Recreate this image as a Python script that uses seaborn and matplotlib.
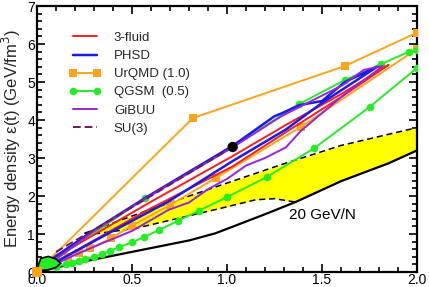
import numpy as np
import pandas as pd
import matplotlib
matplotlib.use("Agg")
import matplotlib.pyplot as plt
from matplotlib.lines import Line2D
from matplotlib.ticker import MultipleLocator
import seaborn as sns

# ---------------- data ----------------
# black reference curve
black_x = [0.0, 0.2, 0.5, 0.8, 0.94, 1.2, 1.36, 1.6, 1.85, 2.0]
black_y = [0.0, 0.23, 0.53, 0.83, 1.02, 1.52, 1.84, 2.39, 2.86, 3.2]

# yellow band (dashed borders)
band_up_x = [0.25, 0.57, 0.97, 1.3, 1.6, 2.0]
band_up_y = [1.02, 1.6, 2.29, 2.85, 3.33, 3.8]
band_lo_x = [0.25, 0.27, 0.52, 0.97, 1.15, 1.25, 1.36, 1.6, 1.85, 2.0]
band_lo_y = [1.02, 0.98, 1.15, 1.68, 1.9, 1.93, 1.84, 2.39, 2.86, 3.2]
band_lo_dash_n = 7  # first points of lower border drawn dashed

# 3-fluid (red)
red_a_x = [0.1, 0.6, 1.03, 1.31, 1.6, 1.85]
red_a_y = [0.4, 1.85, 3.05, 3.87, 4.68, 5.45]
red_b_x = [0.0, 0.2, 0.57, 1.03, 1.31, 1.6, 1.85]
red_b_y = [0.0, 0.55, 1.6, 2.78, 3.68, 4.6, 5.45]

# PHSD (blue)
blue_x = [0.02, 0.1, 0.3, 0.57, 1.03, 1.25, 1.29, 1.38, 1.5, 1.62, 1.79,
          1.5, 1.31, 1.03, 0.69, 0.37, 0.15, 0.05]
blue_y = [0.1, 0.42, 1.1, 1.95, 3.32, 4.1, 4.18, 4.39, 4.5, 5.0, 5.4,
          4.45, 3.75, 2.92, 1.85, 1.0, 0.4, 0.12]

# GiBUU (purple)
purple_x = [0.05, 0.3, 0.57, 1.03, 1.28, 1.38, 1.61, 1.72, 1.82,
            1.6, 1.39, 1.31, 1.2, 1.1, 1.0, 0.9, 0.8, 0.69, 0.5, 0.34, 0.2, 0.05]
purple_y = [0.15, 1.08, 1.93, 3.28, 4.08, 4.34, 4.92, 5.32, 5.42,
            4.6, 3.72, 3.28, 3.0, 2.8, 2.45, 2.18, 1.83, 1.63, 1.08, 0.75, 0.45, 0.1]

# SU(3) (dashed)
su3_x = [0.1, 0.55, 1.0]
su3_y = [0.53, 1.85, 3.2]

# UrQMD (orange, squares)
orq_up_x = [0.0, 0.82, 1.62, 2.0]
orq_up_y = [0.0, 4.05, 5.42, 6.3]
orq_dn_x = [2.0, 1.39, 0.94, 0.70, 0.50, 0.39, 0.28, 0.22, 0.165, 0.0]
orq_dn_y = [5.87, 3.82, 2.47, 1.76, 1.22, 0.89, 0.62, 0.49, 0.39, 0.0]

# QGSM (green, circles)
qg_up_x = [0.0, 0.57, 1.03, 1.38, 1.62, 1.81, 1.96, 2.0]
qg_up_y = [0.0, 1.95, 3.3, 4.42, 5.05, 5.47, 5.8, 5.85]
qg_dn_x = [2.0, 1.75, 1.46, 1.21, 1.0, 0.85, 0.74, 0.64, 0.565, 0.5, 0.43,
           0.384, 0.34, 0.3, 0.25, 0.22, 0.186, 0.15, 0.1]
qg_dn_y = [5.37, 4.34, 3.26, 2.5, 1.97, 1.61, 1.34, 1.10, 0.92, 0.78, 0.65,
           0.55, 0.47, 0.39, 0.34, 0.30, 0.25, 0.2, 0.13]

# green blob near origin
blob_x = [0.0, 0.02, 0.06, 0.10, 0.125, 0.10, 0.06, 0.02, 0.0]
blob_y = [0.08, 0.36, 0.41, 0.34, 0.23, 0.12, 0.06, 0.04, 0.08]

dot_x = [1.03]
dot_y = [3.29]

labels = ["3-fluid", "PHSD", "UrQMD (1.0)", "QGSM  (0.5)", "GiBUU", "SU(3)"]

# ---------------- style ----------------
sns.set_theme(style="ticks")
plt.rcParams["font.family"] = ["Liberation Sans", "DejaVu Sans"]

RED = "#ff1a1a"
BLUE = "#1a1aee"
ORANGE = "#ffa318"
GREEN = "#22ee22"
PURPLE = "#9a22dd"
SU3 = "#6a1d4e"

fig = plt.figure(figsize=(4.29, 2.87), dpi=100)
ax = fig.add_axes([37 / 429, 15 / 287, 380 / 429, 266 / 287])

LW = 1.4

def line(x, y, **kw):
    sns.lineplot(x=x, y=y, sort=False, estimator=None, ax=ax, legend=False, **kw)

# yellow band
ux = np.linspace(0.25, 2.0, 300)
up = np.interp(ux, band_up_x, band_up_y)
lo = np.interp(ux, band_lo_x, band_lo_y)
ax.fill_between(ux, lo, up, color="#ffff00", lw=0, zorder=1)
line(band_up_x, band_up_y, color="black", lw=1.1, linestyle=(0, (4, 2.5)), zorder=2)
line(band_lo_x[:band_lo_dash_n], band_lo_y[:band_lo_dash_n], color="black", lw=1.1,
     linestyle=(0, (4, 2.5)), zorder=2)

# black reference
line(black_x, black_y, color="black", lw=1.6, zorder=3)

# models
line(orq_up_x, orq_up_y, color=ORANGE, lw=LW, marker="s", markersize=6,
     markeredgewidth=0, zorder=4)
line(orq_dn_x, orq_dn_y, color=ORANGE, lw=LW, marker="s", markersize=6,
     markeredgewidth=0, zorder=4)
line(qg_up_x, qg_up_y, color=GREEN, lw=LW, marker="o", markersize=5.5,
     markeredgewidth=0, zorder=4)
line(qg_dn_x, qg_dn_y, color=GREEN, lw=LW, marker="o", markersize=5.5,
     markeredgewidth=0, zorder=4)
line(red_a_x, red_a_y, color=RED, lw=LW, zorder=5)
line(red_b_x, red_b_y, color=RED, lw=LW, zorder=5)
line(blue_x, blue_y, color=BLUE, lw=LW + 0.4, zorder=5)
line(purple_x, purple_y, color=PURPLE, lw=LW, zorder=6)
line(su3_x, su3_y, color=SU3, lw=LW, linestyle=(0, (4, 2)), zorder=6)

# blob and origin marker
ax.fill(blob_x, blob_y, facecolor="#22ee22", edgecolor="black", lw=1.2, zorder=7)
ax.plot([0.0], [0.0], marker="s", color=ORANGE, markersize=7, clip_on=False,
        zorder=8, markeredgewidth=0)
sns.scatterplot(x=dot_x, y=dot_y, color="black", s=55, ax=ax, zorder=9,
                edgecolor="none")

ax.text(1.5, 1.5, "20 GeV/N", ha="center", va="center", fontsize=11, color="black")

# axes
ax.set_xlim(0, 2)
ax.set_ylim(0, 7)
ax.xaxis.set_major_locator(MultipleLocator(0.5))
ax.xaxis.set_minor_locator(MultipleLocator(0.1))
ax.yaxis.set_major_locator(MultipleLocator(1))
ax.yaxis.set_minor_locator(MultipleLocator(0.2))
ax.set_xticks([0.0, 0.5, 1.0, 1.5, 2.0])
ax.set_xticklabels(["0.0", "0.5", "1.0", "1.5", "2.0"])
ax.tick_params(which="both", direction="in", top=True, right=True, colors="black",
               width=1.2)
ax.tick_params(which="major", length=6, labelsize=10, pad=1.5)
ax.tick_params(axis="x", which="major", pad=0.5)
ax.tick_params(which="minor", length=3.5)
for s in ax.spines.values():
    s.set_linewidth(1.6)
    s.set_color("black")
ax.set_ylabel("Energy density ε(t) (GeV/fm$^3$)", fontsize=12, labelpad=3)
ax.set_xlabel("")

handles = [
    Line2D([], [], color=RED, lw=LW),
    Line2D([], [], color=BLUE, lw=LW + 0.4),
    Line2D([], [], color=ORANGE, lw=LW, marker="s", markersize=6, markeredgewidth=0),
    Line2D([], [], color=GREEN, lw=LW, marker="o", markersize=5.5, markeredgewidth=0),
    Line2D([], [], color=PURPLE, lw=LW),
    Line2D([], [], color=SU3, lw=LW, linestyle=(0, (4, 2))),
]
ax.legend(handles, labels, loc="upper left", bbox_to_anchor=(0.06, 0.938),
          frameon=False, fontsize=9.5, numpoints=2, handlelength=2.4,
          handletextpad=1.0, labelspacing=0.45, borderpad=0.2)

fig.savefig("out.png", dpi=100)
